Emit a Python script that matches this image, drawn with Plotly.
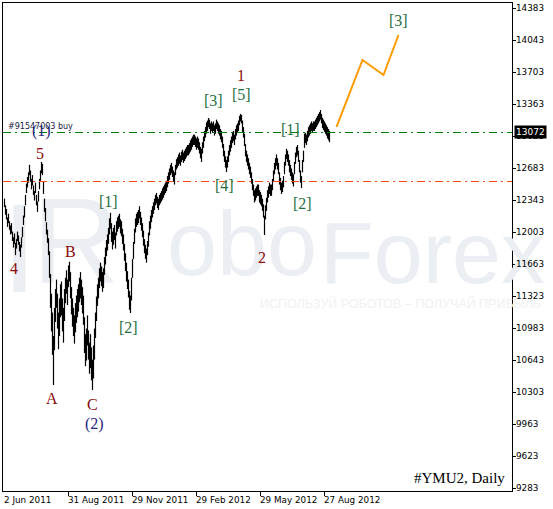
import plotly.graph_objects as go

# ---------------- data ----------------
# daily bars, index 0 = 2 Jun 2011
bar_high = [
    12360, 12290, 12250, 12160, 12200, 12120, 12075, 12100, 12010, 11950,
    11990, 11890, 11930, 12010, 11970, 11900, 11870, 11950, 12060, 12180,
    12280, 12400, 12520, 12590, 12640, 12720, 12660, 12570, 12610, 12500,
    12440, 12530, 12400, 12330, 12440, 12570, 12660, 12750, 12730, 12540,
    12360, 12260, 12110, 12030, 11940, 11800, 11560, 11350, 11150, 10900,
    11200, 11400, 11500, 11350, 11150, 11300, 11450, 11480, 11300, 11200,
    11400, 11520, 11600, 11500, 11650, 11690, 11580, 11420, 11300, 11200,
    11120, 11250, 11330, 11400, 11450, 11520, 11580, 11500, 11420, 11330,
    11100, 10920, 10980, 11120, 10960, 10830, 10920, 10780, 10650, 10800,
    10980, 11150, 11320, 11450, 11520, 11620, 11680, 11640, 11580, 11620,
    11740, 11840, 11920, 11980, 12050, 12150, 12210, 12100, 12010, 12050,
    12080, 12000, 12120, 12160, 12180, 12200, 12140, 12120, 12040, 11980,
    11880, 11780, 11680, 11590, 11500, 11380, 11330, 11520, 11720, 11900,
    12040, 12150, 12200, 12220, 12240, 12280, 12220, 12160, 12100, 12020,
    11930, 11870, 11830, 11910, 12000, 12120, 12180, 12240, 12280, 12320,
    12360, 12400, 12420, 12380, 12360, 12400, 12420, 12440, 12470, 12490,
    12510, 12530, 12550, 12600, 12640, 12680, 12720, 12740, 12700, 12660,
    12640, 12720, 12780, 12800, 12830, 12850, 12820, 12860, 12880, 12850,
    12870, 12890, 12910, 12930, 12930, 12950, 12980, 13000, 13020, 13040,
    13040, 13020, 13000, 13020, 13000, 12960, 12910, 12890, 12960, 13020,
    13080, 13120, 13170, 13190, 13217, 13200, 13160, 13180, 13160, 13180,
    13140, 13160, 13200, 13180, 13160, 13140, 13100, 13080, 13020, 12940,
    12870, 12810, 12770, 12810, 12870, 12930, 12980, 13020, 13060, 13080,
    13040, 13100, 13140, 13160, 13190, 13240, 13260, 13250, 13190, 13120,
    13050, 12940, 12870, 12830, 12790, 12740, 12700, 12640, 12570, 12510,
    12450, 12470, 12490, 12510, 12510, 12450, 12430, 12400, 12360, 12300,
    12180, 12290, 12370, 12450, 12490, 12530, 12510, 12510, 12570, 12660,
    12740, 12790, 12830, 12790, 12740, 12640, 12580, 12530, 12550, 12600,
    12750, 12830, 12890, 12870, 12830, 12770, 12720, 12680, 12640, 12620,
    12750, 12850, 12910, 12930, 12870, 12770, 12660, 12600, 12770, 12870,
    13050, 13060, 13040, 13080, 13120, 13140, 13160, 13180, 13160, 13180,
    13180, 13200, 13220, 13240, 13260, 13280, 13302, 13260, 13220, 13200,
    13180, 13160, 13140, 13120, 13100, 13080,
]
bar_low = [
    12270, 12190, 12140, 12060, 12100, 12030, 11980, 11990, 11910, 11840,
    11880, 11760, 11830, 11910, 11870, 11800, 11740, 11840, 11950, 12080,
    12160, 12290, 12420, 12480, 12530, 12610, 12540, 12460, 12500, 12400,
    12340, 12420, 12290, 12220, 12330, 12460, 12550, 12630, 12610, 12410,
    12220, 12120, 11980, 11890, 11760, 11520, 11200, 10950, 10700, 10380,
    10750, 11050, 11200, 10980, 10760, 10900, 11100, 11120, 10950, 10830,
    11060, 11250, 11350, 11230, 11420, 11480, 11300, 11130, 11000, 10900,
    10820, 10940, 11040, 11100, 11160, 11260, 11300, 11230, 11140, 11020,
    10720, 10580, 10640, 10800, 10650, 10500, 10560, 10430, 10327, 10450,
    10650, 10880, 11060, 11220, 11300, 11410, 11480, 11430, 11370, 11410,
    11550, 11660, 11750, 11810, 11880, 11980, 12040, 11900, 11820, 11870,
    11920, 11830, 11970, 12010, 12040, 12060, 11990, 11960, 11880, 11810,
    11700, 11590, 11480, 11400, 11310, 11180, 11145, 11280, 11520, 11720,
    11880, 12000, 12060, 12080, 12100, 12150, 12080, 12020, 11950, 11860,
    11780, 11720, 11680, 11760, 11850, 11970, 12040, 12110, 12160, 12200,
    12240, 12290, 12310, 12260, 12240, 12290, 12310, 12330, 12350, 12370,
    12400, 12420, 12440, 12480, 12520, 12560, 12610, 12630, 12590, 12540,
    12510, 12610, 12670, 12690, 12710, 12730, 12710, 12750, 12770, 12740,
    12760, 12780, 12800, 12820, 12820, 12840, 12860, 12880, 12910, 12930,
    12930, 12910, 12880, 12900, 12880, 12840, 12790, 12750, 12840, 12900,
    12970, 13010, 13050, 13080, 13120, 13100, 13050, 13080, 13060, 13080,
    13030, 13050, 13100, 13080, 13050, 13030, 12990, 12960, 12900, 12810,
    12750, 12690, 12643, 12690, 12750, 12820, 12860, 12900, 12950, 12970,
    12930, 12990, 13030, 13060, 13080, 13140, 13180, 13160, 13070, 13010,
    12920, 12810, 12750, 12710, 12670, 12620, 12580, 12520, 12450, 12390,
    12320, 12340, 12370, 12390, 12390, 12320, 12300, 12280, 12230, 12160,
    11974, 12140, 12230, 12320, 12370, 12410, 12390, 12390, 12450, 12540,
    12620, 12670, 12710, 12670, 12620, 12510, 12450, 12410, 12430, 12480,
    12620, 12710, 12780, 12750, 12710, 12640, 12600, 12560, 12520, 12490,
    12620, 12730, 12800, 12820, 12750, 12640, 12530, 12473, 12640, 12750,
    12900, 12950, 12930, 12970, 13010, 13030, 13050, 13080, 13060, 13080,
    13080, 13100, 13120, 13140, 13160, 13180, 13200, 13160, 13110, 13090,
    13070, 13050, 13030, 13000, 12980, 12960,
]

# forecast path (orange)
forecast_idx = [332, 358, 379, 394]
forecast_price = [13122, 13834, 13674, 14099]

# horizontal levels
buy_level = 13063
stop_level = 12542
current_price = 13072
order_text = "#91547003 buy"

# axis ticks
x_tick_idx = [0, 64, 128, 192, 256, 320]
x_tick_labels = ["2 Jun 2011", "31 Aug 2011", "29 Nov 2011", "29 Feb 2012", "29 May 2012", "27 Aug 2012"]
y_ticks = [9283, 9623, 9963, 10303, 10643, 10983, 11323, 11663, 12003, 12343,
           12683, 13023, 13363, 13703, 14043, 14383]

# wave labels: (text, bar index, price, colour key)
wave_labels = [
    ("1", 236, 13674, "red"), ("[5]", 237, 13462, "green"), ("[3]", 209, 13408, "green"),
    ("[4]", 220, 12495, "green"), ("[1]", 104, 12325, "green"), ("[2]", 124, 10986, "green"),
    ("[1]", 286, 13100, "green"), ("[2]", 298, 12304, "green"), ("[3]", 394, 14258, "green"),
    ("2", 257, 11740, "red"), ("5", 35, 12845, "red"), ("4", 9, 11613, "red"),
    ("B", 66, 11804, "red"), ("A", 47, 10232, "red"), ("C", 88, 10168, "red"),
    ("(2)", 90, 9966, "blue"), ("(1)", 37, 13079, "blue"),
]
label_colors = {"red": "#8B0A0A", "green": "#1F6F3F", "blue": "#262680"}

title_text = "#YMU2, Daily"
wm_logo = "R"
wm_left = "obo"
wm_right = "Forex"
wm_sub = "ИСПОЛЬЗУЙ РОБОТОВ – ПОЛУЧАЙ ПРИБЫЛЬ"

# ---------------- figure ----------------
fig = go.Figure()

WM = "#EBEEF2"
# watermark parts lying under the bars are drawn as traces before the bars
fig.add_trace(go.Scatter(x=[162.5], y=[11783], mode="text", text=[wm_left],
                         textposition="middle right", cliponaxis=False,
                         textfont=dict(family="Liberation Sans", size=90, color=WM), hoverinfo="skip"))
fig.add_trace(go.Scatter(x=[28], y=[11783], mode="text", text=[wm_logo],
                         textposition="middle right", cliponaxis=False,
                         textfont=dict(family="Liberation Sans", size=120, color=WM), hoverinfo="skip"))
fig.add_shape(type="rect", xref="x", yref="y", x0=9, x1=21, y0=11368, y1=12293,
              fillcolor=WM, line=dict(width=0), layer="below")

# price bars (high-low)
xs, ys = [], []
for i, (h, l) in enumerate(zip(bar_high, bar_low)):
    xs += [i, i, None]
    ys += [l, h, None]
fig.add_trace(go.Scatter(x=xs, y=ys, mode="lines", line=dict(color="black", width=1.2),
                         hoverinfo="skip"))

# forecast
fig.add_trace(go.Scatter(x=forecast_idx, y=forecast_price, mode="lines",
                         line=dict(color="#FF9A00", width=2), hoverinfo="skip"))

# levels
for lvl, col in [(buy_level, "#008000"), (stop_level, "#FF4A10")]:
    fig.add_shape(type="line", xref="paper", yref="y", x0=0, x1=1, y0=lvl, y1=lvl,
                  line=dict(color=col, width=1, dash="8px,4px,2px,4px"))

ann = []
# watermark parts clear of the bars (they run past the frame)
ann.append(dict(x=0.619, y=11783, xref="paper", yref="y", text=wm_right, showarrow=False,
                font=dict(family="Liberation Sans", size=88, color=WM),
                xanchor="left", yanchor="middle"))
ann.append(dict(x=0.501, y=11241, xref="paper", yref="y", text=wm_sub, showarrow=False,
                font=dict(family="Liberation Sans", size=12.5, color="#EFF1F4"),
                xanchor="left", yanchor="middle"))
# price-axis labels (drawn after the watermark so they stay on top)
for v in y_ticks:
    ann.append(dict(x=1, y=v, xref="paper", yref="y", text=str(v), showarrow=False,
                    font=dict(family="DejaVu Sans", size=8.8, color="black"),
                    xanchor="left", yanchor="middle", xshift=2))
for txt, xi, pr, ck in wave_labels:
    ann.append(dict(x=xi, y=pr, xref="x", yref="y", text=txt, showarrow=False,
                    font=dict(family="Liberation Serif, Times New Roman, serif", size=16,
                              color=label_colors[ck]),
                    xanchor="center", yanchor="middle"))
ann.append(dict(x=4, y=13132, xref="x", yref="y", text=order_text, showarrow=False,
                font=dict(family="DejaVu Sans", size=8, color="#202040"),
                xanchor="left", yanchor="middle", xshift=-3))
ann.append(dict(x=1, y=9392, xref="paper", yref="y", text=title_text, showarrow=False,
                font=dict(family="Liberation Serif, Times New Roman, serif", size=15, color="black"),
                xanchor="right", yanchor="middle", xshift=-5))
ann.append(dict(x=1, y=current_price, xref="paper", yref="y", text=str(current_price),
                showarrow=False, bgcolor="black", borderpad=1,
                font=dict(family="DejaVu Sans", size=9, color="white"),
                xanchor="left", yanchor="middle", xshift=2))
for xi, lab in zip(x_tick_idx, x_tick_labels):
    ann.append(dict(x=xi, y=0, xref="x", yref="paper", text=lab, showarrow=False,
                    font=dict(family="DejaVu Sans", size=8.8, color="black"),
                    xanchor="left", yanchor="top", xshift=-3, yshift=-2))

fig.update_layout(
    width=553, height=509,
    margin=dict(l=3, r=41, t=3, b=18),
    paper_bgcolor="white", plot_bgcolor="white",
    showlegend=False, hovermode=False,
    annotations=ann,
    xaxis=dict(range=[-1.5, 507.5], showgrid=False, zeroline=False,
               tickvals=x_tick_idx[1:], ticks="outside", ticklen=4, tickcolor="black",
               showticklabels=False, showline=True, linecolor="black", linewidth=1, mirror=True),
    yaxis=dict(range=[9254, 14439], side="right", showgrid=False, zeroline=False,
               tickvals=y_ticks, ticks="outside", ticklen=3, tickcolor="black",
               showticklabels=False,
               showline=True, linecolor="black", linewidth=1, mirror=True),
)

fig.write_html("out.html", config={"displayModeBar": False},
               post_script="document.body.style.margin='0px';document.body.style.padding='0px';"
                           "document.body.style.overflow='hidden';")
